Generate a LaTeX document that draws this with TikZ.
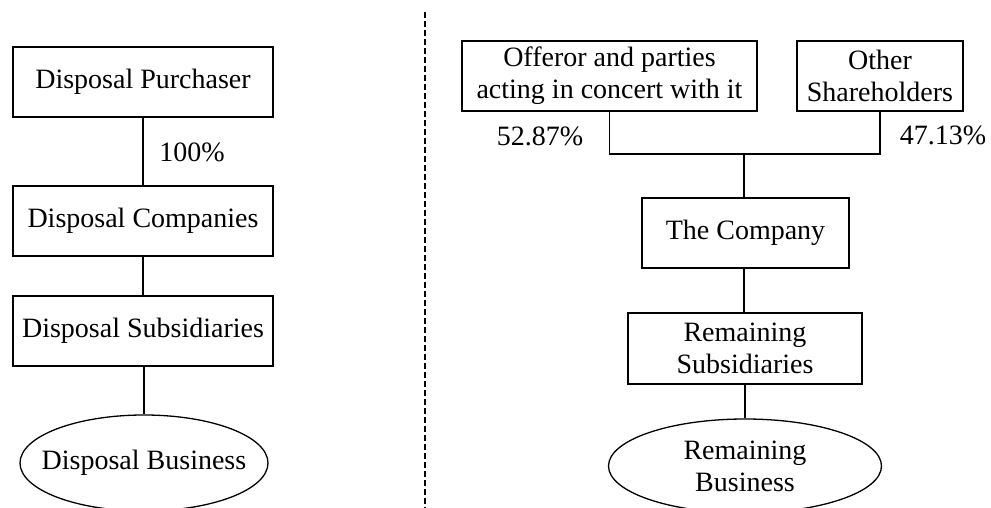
\documentclass[tikz,border=0pt]{standalone}
\usepackage{fontspec}
\setmainfont{Liberation Serif}
\usetikzlibrary{shapes.geometric}
\begin{document}
\begin{tikzpicture}[x=1pt,y=-1pt,
  every node/.style={font=\fontsize{28}{32}\selectfont},
  box/.style={draw, line width=1.5pt, rectangle, inner sep=0pt, align=center},
  oval/.style={draw, line width=1.3pt, ellipse, inner sep=0pt, align=center},
  link/.style={line width=1.2pt},
  pct/.style={inner sep=0pt}]
\useasboundingbox (0,0) rectangle (991,508);
\clip (0,0) rectangle (991,508);
% left
\node[box, minimum width=260pt, minimum height=70pt] (dp) at (143,82) {Disposal Purchaser};
\node[box, minimum width=260pt, minimum height=70pt] (dc) at (143,221) {Disposal Companies};
\node[box, minimum width=260pt, minimum height=70pt] (ds) at (143,331) {Disposal Subsidiaries};
\node[oval, minimum width=248pt, minimum height=96pt] (db) at (144,463) {};
\node[inner sep=0pt] (dbt) at (db.center) {Disposal Business};
\node[pct] (p100) at (192,152) {100\%};
\draw[link] (dp) -- (dc);
\draw[link] (dc) -- (ds);
\draw[link] (ds.south -| db.north) -- (db.north);
% divider
\coordinate (dtop) at (425,12);
\coordinate (dbot) at (425,508);
\draw[line width=1.3pt, dash pattern=on 6pt off 3pt] (dtop) -- (dbot);
% right
\node[box, minimum width=295pt, minimum height=70pt] (off) at (609.5,76) {Offeror and parties\\acting in concert with it};
\node[box, minimum width=166pt, minimum height=70pt] (oth) at (880,76) {Other\\Shareholders};
\node[box, minimum width=207pt, minimum height=70pt] (comp) at (745.5,233) {The Company};
\node[box, minimum width=234pt, minimum height=71pt] (rs) at (745,348.5) {Remaining\\Subsidiaries};
\node[oval, minimum width=273pt, minimum height=94pt] (rb) at (745,466) {};
\node[inner sep=0pt, align=center] (rbt) at (rb.center) {Remaining\\Business};
\node[pct] (p52) at (540,136) {52.87\%};
\node[pct] (p47) at (943,135) {47.13\%};
\coordinate (j) at (744,154);
\draw[link] (off.south) -- (off.south |- j) -- (oth.south |- j) -- (oth.south);
\draw[link] (j) -- (j |- comp.north);
\draw[link] (comp.south -| j) -- (j |- rs.north);
\draw[link] (rs) -- (rb);
\end{tikzpicture}
\end{document}
